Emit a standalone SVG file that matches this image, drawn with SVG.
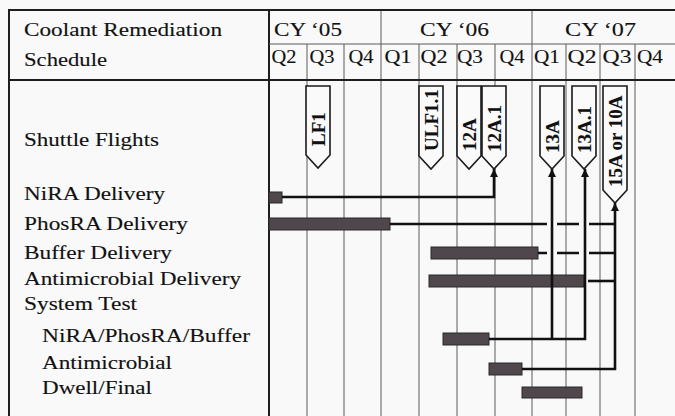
<svg xmlns="http://www.w3.org/2000/svg" width="675" height="416" viewBox="0 0 675 416">
<style>
  text { font-family: "Liberation Serif", "Times New Roman", serif; fill: #111; stroke: #111; stroke-width: 0.12; }
  .lbl { font-size: 19.5px; }
  .hdr { font-size: 19.5px; }
  .q { font-size: 19.5px; text-anchor: middle; }
  .yr { font-size: 19.5px; }
  .fl { font-size: 19px; font-weight: bold; stroke-width: 0.1; }
  .grid { stroke: #5a5a5a; stroke-width: 1; fill: none; }
  .border { stroke: #1e1e1e; stroke-width: 2; fill: none; }
  .bar { fill: #4f474b; stroke: #2a2a2a; stroke-width: 1; }
  .flag { fill: #fafafa; stroke: #1a1a1a; stroke-width: 1.6; stroke-linejoin: miter; }
  .conn { stroke: #111; stroke-width: 2.6; fill: none; stroke-linejoin: miter; }
</style>
<defs>
  <marker id="arr" viewBox="0 0 10 10" refX="10" refY="5" markerWidth="8" markerHeight="8" markerUnits="userSpaceOnUse" orient="auto">
    <path d="M0,0 L10,5 L0,10 z" fill="#111"/>
  </marker>
</defs>
<rect x="0" y="0" width="675" height="416" fill="#f9f9f9"/>

<g id="grid">
  <path class="grid" d="M307,44 V416 M344,44 V416 M419,44 V416 M457,44 V416 M495,44 V416 M566,44 V416 M600,44 V416 M635,44 V416"/>
  <path class="grid" d="M381,10 V416 M532,10 V416" stroke-width="1.2"/>
  <path class="border" d="M9,416 V10 H675 M9,80 H675 M269,10 V416"/>
  <path class="grid" d="M269,44 H675" stroke-width="1.5"/>
</g>

<g id="header">
  <text class="hdr" x="24" y="36" textLength="198" lengthAdjust="spacingAndGlyphs">Coolant Remediation</text>
  <text class="hdr" x="24" y="66" textLength="83" lengthAdjust="spacingAndGlyphs">Schedule</text>
  <text class="yr" x="274" y="36" textLength="68" lengthAdjust="spacingAndGlyphs">CY ‘05</text>
  <text class="yr" x="420" y="36" textLength="69" lengthAdjust="spacingAndGlyphs">CY ‘06</text>
  <text class="yr" x="565" y="36" textLength="71" lengthAdjust="spacingAndGlyphs">CY ‘07</text>
  <text class="q" x="284" y="63" textLength="25" lengthAdjust="spacingAndGlyphs">Q2</text>
  <text class="q" x="322" y="63" textLength="25" lengthAdjust="spacingAndGlyphs">Q3</text>
  <text class="q" x="361" y="63" textLength="25" lengthAdjust="spacingAndGlyphs">Q4</text>
  <text class="q" x="398" y="63" textLength="27" lengthAdjust="spacingAndGlyphs">Q1</text>
  <text class="q" x="434" y="63" textLength="27" lengthAdjust="spacingAndGlyphs">Q2</text>
  <text class="q" x="470" y="63" textLength="26" lengthAdjust="spacingAndGlyphs">Q3</text>
  <text class="q" x="512" y="63" textLength="25" lengthAdjust="spacingAndGlyphs">Q4</text>
  <text class="q" x="547" y="63" textLength="26" lengthAdjust="spacingAndGlyphs">Q1</text>
  <text class="q" x="582" y="63" textLength="29" lengthAdjust="spacingAndGlyphs">Q2</text>
  <text class="q" x="617" y="63" textLength="29" lengthAdjust="spacingAndGlyphs">Q3</text>
  <text class="q" x="650" y="63" textLength="26" lengthAdjust="spacingAndGlyphs">Q4</text>
</g>

<g id="row-labels">
  <text class="lbl" x="24" y="146" textLength="135" lengthAdjust="spacingAndGlyphs">Shuttle Flights</text>
  <text class="lbl" x="24" y="200" textLength="141" lengthAdjust="spacingAndGlyphs">NiRA Delivery</text>
  <text class="lbl" x="24" y="230" textLength="164" lengthAdjust="spacingAndGlyphs">PhosRA Delivery</text>
  <text class="lbl" x="24" y="259" textLength="148" lengthAdjust="spacingAndGlyphs">Buffer Delivery</text>
  <text class="lbl" x="24" y="285" textLength="217" lengthAdjust="spacingAndGlyphs">Antimicrobial Delivery</text>
  <text class="lbl" x="24" y="310" textLength="113" lengthAdjust="spacingAndGlyphs">System Test</text>
  <text class="lbl" x="42" y="342" textLength="208" lengthAdjust="spacingAndGlyphs">NiRA/PhosRA/Buffer</text>
  <text class="lbl" x="42" y="369" textLength="130" lengthAdjust="spacingAndGlyphs">Antimicrobial</text>
  <text class="lbl" x="42" y="394" textLength="110" lengthAdjust="spacingAndGlyphs">Dwell/Final</text>
</g>

<g id="bar-nira"><rect class="bar" x="269" y="192" width="13" height="11"/></g>
<g id="bar-phosra"><rect class="bar" x="269" y="218" width="121" height="12"/></g>
<g id="bar-buffer"><rect class="bar" x="431" y="247" width="107" height="12"/></g>
<g id="bar-antimicrobial"><rect class="bar" x="429" y="275" width="155" height="12"/></g>
<g id="bar-test-npb"><rect class="bar" x="443" y="333" width="46" height="12"/></g>
<g id="bar-test-antimicrobial"><rect class="bar" x="489" y="363" width="33" height="12"/></g>
<g id="bar-dwell-final"><rect class="bar" x="522" y="387" width="60" height="11"/></g>

<g id="connectors">
  <path class="conn" d="M282,197 H494 V169" marker-end="url(#arr)"/>
  <path class="conn" d="M489,339 H585 V169" marker-end="url(#arr)"/>
  <path class="conn" d="M552,339 V169" marker-end="url(#arr)"/>
  <path class="conn" d="M522,369 H615 V203" marker-end="url(#arr)"/>
  <path class="conn" d="M390,224 H547 M557,224 H579 M589,224 H615"/>
  <path class="conn" d="M538,253 H547 M557,253 H579 M589,253 H615"/>
  <path class="conn" d="M588,281 H615"/>
</g>

<g id="flight-lf1">
  <polygon class="flag" points="306,86 330,86 330,155 318,168 306,155"/>
  <text class="fl" transform="translate(324.5,146) rotate(-90)">LF1</text>
</g>
<g id="flight-ulf1-1">
  <polygon class="flag" points="419,86 443,86 443,156 431,169 419,156"/>
  <text class="fl" transform="translate(437.5,151) rotate(-90)">ULF1.1</text>
</g>
<g id="flight-12a">
  <polygon class="flag" points="457,86 481,86 481,156 469,169 457,156"/>
  <text class="fl" transform="translate(475.5,151) rotate(-90)">12A</text>
</g>
<g id="flight-12a-1">
  <polygon class="flag" points="482,86 506,86 506,156 494,169 482,156"/>
  <text class="fl" transform="translate(500.5,152) rotate(-90)">12A.1</text>
</g>
<g id="flight-13a">
  <polygon class="flag" points="540,86 564,86 564,156 552,169 540,156"/>
  <text class="fl" transform="translate(558.5,153) rotate(-90)">13A</text>
</g>
<g id="flight-13a-1">
  <polygon class="flag" points="572,86 596,86 596,156 584,169 572,156"/>
  <text class="fl" transform="translate(590.5,153) rotate(-90)">13A.1</text>
</g>
<g id="flight-15a-10a">
  <polygon class="flag" points="603,86 627,86 627,190 615,203 603,190"/>
  <text class="fl" transform="translate(621.5,187) rotate(-90)">15A or 10A</text>
</g>
</svg>
